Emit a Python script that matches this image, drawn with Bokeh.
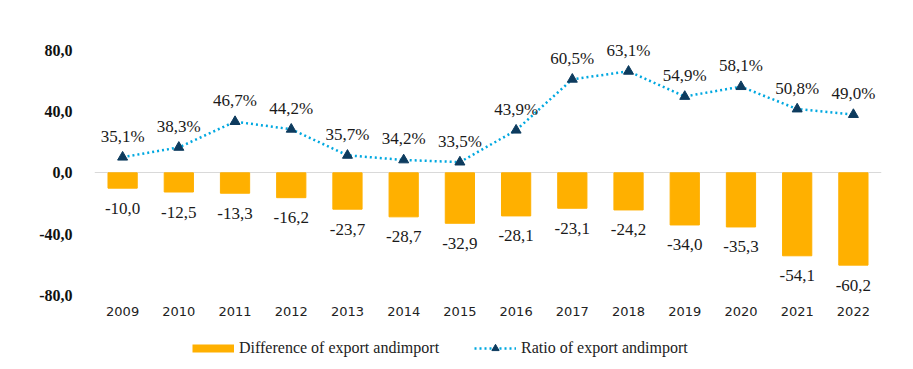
from bokeh.plotting import figure
from bokeh.layouts import column
from bokeh.models import ColumnDataSource, Range1d, FixedTicker, Legend, LegendItem, FactorRange
from bokeh.core.properties import value
from bokeh.embed import file_html
from bokeh.resources import INLINE

years = ["2009", "2010", "2011", "2012", "2013", "2014", "2015",
         "2016", "2017", "2018", "2019", "2020", "2021", "2022"]
diff = [-10.0, -12.5, -13.3, -16.2, -23.7, -28.7, -32.9,
        -28.1, -23.1, -24.2, -34.0, -35.3, -54.1, -60.2]
ratio = [35.1, 38.3, 46.7, 44.2, 35.7, 34.2, 33.5,
         43.9, 60.5, 63.1, 54.9, 58.1, 50.8, 49.0]
y_ticks = [-80, -40, 0, 40, 80]
y_tick_labels = ["-80,0", "-40,0", "0,0", "40,0", "80,0"]
series_names = ["Difference of export andimport", "Ratio of export andimport"]

BAR = "#FFB000"
LINE = "#00A8E0"
MARK = "#0D3B5E"
SERIF = "Liberation Serif"

src = ColumnDataSource(dict(
    year=years,
    diff=diff,
    ratio=ratio,
    diff_lbl=[f"{v:.1f}".replace(".", ",") for v in diff],
    ratio_lbl=[f"{v:.1f}%".replace(".", ",") for v in ratio],
))

p = figure(x_range=FactorRange(*years), y_range=Range1d(-80, 100),
           frame_width=787, frame_height=276,
           min_border_left=94, min_border_right=24, min_border_top=19, min_border_bottom=30,
           output_backend="svg", toolbar_location=None)
p.outline_line_color = None
p.background_fill_color = "white"
p.border_fill_color = "white"
p.extra_y_ranges = {"ratio": Range1d(-10, 80)}

p.xgrid.grid_line_color = None
p.ygrid.ticker = FixedTicker(ticks=[0])
p.ygrid.grid_line_color = "#D9D9D9"
p.ygrid.grid_line_width = 1

p.xaxis.axis_line_color = None
p.xaxis.major_tick_line_color = None
p.xaxis.minor_tick_line_color = None
p.xaxis.major_label_standoff = 5
p.xaxis.major_label_text_font = "DejaVu Sans"
p.xaxis.major_label_text_font_size = "13px"
p.xaxis.major_label_text_color = "#222222"

p.yaxis.ticker = FixedTicker(ticks=y_ticks)
p.yaxis.major_label_overrides = dict(zip(y_ticks, y_tick_labels))
p.yaxis.axis_line_color = None
p.yaxis.major_tick_line_color = None
p.yaxis.minor_tick_line_color = None
p.yaxis.major_label_standoff = 16
p.yaxis.major_label_text_font = SERIF
p.yaxis.major_label_text_font_size = "16px"
p.yaxis.major_label_text_font_style = "bold"
p.yaxis.major_label_text_color = "#111111"

p.vbar(x="year", top="diff", bottom=0, width=0.52, source=src, color=BAR)
p.line(x="year", y="ratio", y_range_name="ratio", source=src,
       line_color=LINE, line_width=2.5, line_dash="2 3")
p.scatter(x="year", y="ratio", y_range_name="ratio", source=src,
          marker="triangle", size=10, fill_color=MARK, line_color=MARK)

p.text(x="year", y="diff", text="diff_lbl", source=src, y_offset=20,
       text_align="center", text_baseline="middle",
       text_font=value(SERIF), text_font_size="17px", text_color="#1a1a1a")
p.text(x="year", y="ratio", text="ratio_lbl", source=src, y_range_name="ratio", y_offset=-21,
       text_align="center", text_baseline="middle",
       text_font=value(SERIF), text_font_size="17px", text_color="#1a1a1a")

# legend strip below the chart (key glyphs sit outside its visible range)
lg = figure(width=905, height=44, x_range=Range1d(0, 1), y_range=Range1d(0, 1),
            x_axis_type=None, y_axis_type=None, min_border=0,
            output_backend="svg", toolbar_location=None)
lg.outline_line_color = None
lg.grid.grid_line_color = None
lg.background_fill_color = "white"
lg.border_fill_color = "white"
off = [5, 6]
bar_key = lg.line(x=off, y=off, line_color=BAR, line_width=8)
line_key = lg.line(x=off, y=off, line_color=LINE, line_width=2.5, line_dash="2 3")
tri_key = lg.scatter(x=off, y=off, marker="triangle", size=10, fill_color=MARK, line_color=MARK)

legend = Legend(items=[LegendItem(label=series_names[0], renderers=[bar_key]),
                       LegendItem(label=series_names[1], renderers=[line_key, tri_key])],
                orientation="horizontal", location=(98, 12),
                glyph_width=42, glyph_height=18, label_standoff=5, spacing=35,
                padding=0, margin=0, border_line_color=None, background_fill_alpha=0,
                label_text_font=SERIF, label_text_font_size="16px", label_text_color="#222222")
lg.add_layout(legend)

layout = column(p, lg, spacing=0)
open("out.html", "w").write(file_html(layout, INLINE))
